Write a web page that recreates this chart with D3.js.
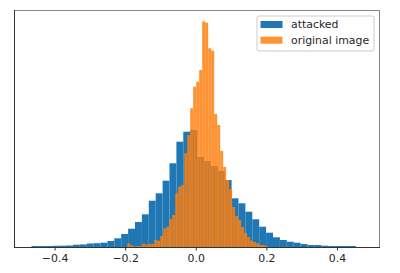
<!DOCTYPE html>
<html>
<head>
<meta charset="utf-8">
<script src="https://cdn.jsdelivr.net/npm/d3@7"></script>
<style>
  body { margin: 0; background: #fff; }
  svg { display: block; font-family: "DejaVu Sans", sans-serif; }
</style>
</head>
<body>
<svg width="400" height="273"></svg>
<script>
// histogram bins: [first edge, last edge] and bar heights per bin
const blueRange = [-0.4654, 0.4534];
const blueCounts = [1, 1, 1, 1.2, 1.3, 1.5, 2.3, 2.6, 3.5, 3.8, 4.3, 6, 8.7, 13, 18.3, 25,
  32.7, 46.3, 53.7, 66.3, 83.7, 105.3, 115.3, 117, 90, 86, 81, 76, 67, 48.7, 43.7, 35.3,
  27.7, 20.3, 14.3, 9.7, 7, 5.3, 4.3, 3, 2, 2, 1.3, 1, 1, 1, 1];
const orangeRange = [-0.194, 0.205];
const orangeCounts = [3.7, 1.7, 0.5, 1, 1, 3.3, 2.3, 3.3, 3, 7, 6.3, 11, 18.7, 20.3, 27.7, 32,
  53.7, 60.3, 62, 93.7, 112, 138.7, 160.3, 165.3, 177, 225.7, 224.3, 198.7, 196.3, 133, 122,
  96, 80, 67, 58, 40, 31, 27, 20, 14, 10, 6.3, 5, 3.7, 2, 2, 1];
const xTicks = [-0.4, -0.2, 0.0, 0.2, 0.4];
const seriesNames = ["attacked", "original image"];
const seriesColors = ["#1f77b4", "#ff7f0e"];

let svg = d3.select("svg");
let margin = {top: 10, right: 20, bottom: 26, left: 14};
let width = +svg.attr("width"), height = +svg.attr("height");
let fontSize = 10.9;

let x = d3.scaleLinear([-0.515, 0.522], [margin.left, width - margin.right]);
let yMax = d3.max(blueCounts.concat(orangeCounts)) * 1.05;
let y = d3.scaleLinear([0, yMax], [height - margin.bottom, margin.top]);

function toBins(range, counts) {
  let w = (range[1] - range[0]) / counts.length;
  return counts.map((c, i) => ({x0: range[0] + i * w, x1: range[0] + (i + 1) * w, v: c}));
}

function drawHist(bins, color, opacity) {
  svg.append("g")
      .attr("fill", color)
      .attr("fill-opacity", opacity)
    .selectAll("rect")
    .data(bins)
    .join("rect")
      .attr("x", d => x(d.x0))
      .attr("width", d => x(d.x1) - x(d.x0))
      .attr("y", d => y(d.v))
      .attr("height", d => y(0) - y(d.v));
}

drawHist(toBins(blueRange, blueCounts), seriesColors[0], 1);
drawHist(toBins(orangeRange, orangeCounts), seriesColors[1], 0.85);

// frame
let x0 = margin.left, x1 = width - margin.right;
let y0 = margin.top, y1 = height - margin.bottom;
svg.append("line").attr("x1", x0).attr("x2", x1).attr("y1", y0 + 0.5).attr("y2", y0 + 0.5)
  .attr("stroke", "#888");
svg.append("line").attr("x1", x1 - 0.5).attr("x2", x1 - 0.5).attr("y1", y0).attr("y2", y1)
  .attr("stroke", "#888");
svg.append("line").attr("x1", x0 + 0.5).attr("x2", x0 + 0.5).attr("y1", y0).attr("y2", y1)
  .attr("stroke", "#333");

let xAxis = svg.append("g")
    .attr("transform", `translate(0,${y1})`)
    .call(d3.axisBottom(x).tickValues(xTicks).tickSize(3.5).tickPadding(3.5)
      .tickFormat(d3.format(".1f")));
xAxis.select(".domain").attr("stroke", "#333").attr("d", `M${x0},0.5H${x1}`);
xAxis.selectAll(".tick line").attr("stroke", "#333");
xAxis.selectAll("text").attr("font-size", fontSize).attr("fill", "#262626")
  .attr("font-family", "DejaVu Sans");

// legend
let leg = svg.append("g").attr("transform", "translate(257,16)");
leg.append("rect").attr("width", 117).attr("height", 35).attr("rx", 2)
  .attr("fill", "#fff").attr("fill-opacity", 0.8).attr("stroke", "#ccc");
seriesNames.forEach((name, i) => {
  let row = leg.append("g").attr("transform", `translate(0,${5 + i * 15.7})`);
  row.append("rect").attr("x", 3.5).attr("width", 22).attr("height", 7)
    .attr("fill", seriesColors[i]).attr("fill-opacity", i ? 0.85 : 1);
  row.append("text").attr("x", 34).attr("y", 3.5).attr("dy", "0.35em")
    .attr("font-size", fontSize).attr("fill", "#262626").text(name);
});
</script>
</body>
</html>
